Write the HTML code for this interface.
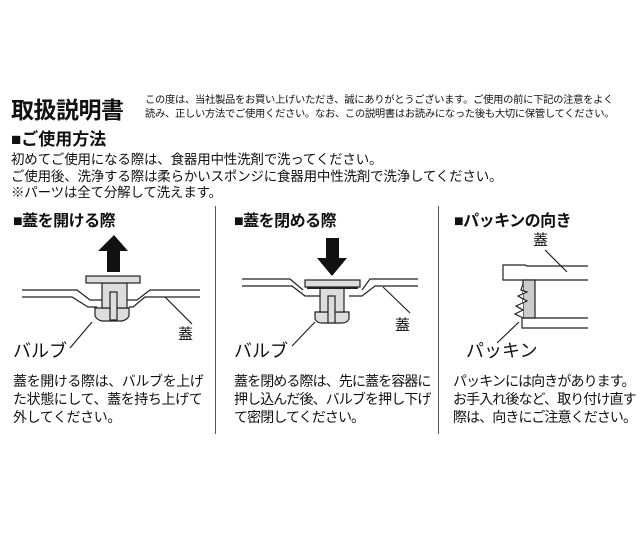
<!DOCTYPE html>
<html><head><meta charset="utf-8"><style>
body{margin:0;width:640px;height:533px;background:#fff;position:relative;overflow:hidden;font-family:"Liberation Sans","Noto Sans CJK JP",sans-serif;color:#111}
.t{position:absolute;white-space:nowrap}
.b{font-weight:bold}
</style></head><body>
<div class="t b" style="left:11px;top:91px;font-size:23px;letter-spacing:-0.5px">取扱説明書</div>
<div class="t" style="left:145px;top:94px;font-size:10.3px;line-height:14px;letter-spacing:-0.3px">この度は、当社製品をお買い上げいただき、誠にありがとうございます。ご使用の前に下記の注意をよく<br>読み、正しい方法でご使用ください。なお、この説明書はお読みになった後も大切に保管してください。</div>
<div class="t b" style="left:11px;top:125px;font-size:17px">■ご使用方法</div>
<div class="t" style="left:11px;top:152px;font-size:13.5px;line-height:16.5px;letter-spacing:-0.2px">初めてご使用になる際は、食器用中性洗剤で洗ってください。<br>ご使用後、洗浄する際は柔らかいスポンジに食器用中性洗剤で洗浄してください。<br>※パーツは全て分解して洗えます。</div>

<div style="position:absolute;left:215px;top:206px;width:1px;height:228px;background:#555"></div>
<div style="position:absolute;left:438px;top:206px;width:1px;height:228px;background:#555"></div>

<div class="t b" style="left:13px;top:207px;font-size:16px;letter-spacing:-0.5px">■蓋を開ける際</div>
<div class="t b" style="left:234px;top:207px;font-size:16px;letter-spacing:-0.5px">■蓋を閉める際</div>
<div class="t b" style="left:454px;top:207px;font-size:16px;letter-spacing:-0.5px">■パッキンの向き</div>

<svg width="640" height="533" style="position:absolute;left:0;top:0" fill="none" stroke="#222" stroke-width="1.2">
<polygon points="114,235 128,251 120,251 120,272 107,272 107,251 98,251" fill="#111" stroke="none"/>
<polyline points="22,290 77,290 90,300 102,300"/>
<polyline points="22,297 72,297 88,307 97,307"/>
<polyline points="127,300 137,300 150,290 200,290"/>
<polyline points="129,307 133,307 145,297 200,297"/>
<path d="M95,308 H129 V316 Q127,320 122,321 H102 Q97,320 95,316 Z" fill="#ddd"/>
<rect x="102" y="283" width="25" height="25" fill="#ddd"/>
<rect x="110" y="292" width="7" height="28" fill="#ddd"/>
<rect x="86" y="276" width="54" height="7" fill="#ddd"/>
<line x1="165" y1="297" x2="192" y2="324"/>
<line x1="92" y1="322" x2="70" y2="348"/>
<polygon points="326,238 339,238 339,258 347,258 332,276 317,258 326,258" fill="#111" stroke="none"/>
<polyline points="242,279 290,279 303,290"/>
<polyline points="242,286 292,286 305,296 320,296"/>
<polyline points="362,290 370,279 418,279"/>
<polyline points="349,296 362,296 375,286 418,286"/>
<path d="M315,312 H349 V319 Q347,323 342,323 H322 Q317,323 315,319 Z" fill="#ddd"/>
<rect x="320" y="288" width="24" height="24" fill="#ddd"/>
<rect x="328" y="296" width="7" height="27" fill="#ddd"/>
<rect x="305" y="280" width="55" height="7" fill="#ddd"/>
<line x1="307" y1="288" x2="358" y2="288" stroke-width="2"/>
<line x1="383" y1="287" x2="410" y2="313"/>
<line x1="315" y1="322" x2="292" y2="346"/>
<path d="M588,266 H527 L525,265 H503 V280 H588"/>
<rect x="523" y="280" width="12" height="38" fill="#ccc"/>
<polyline points="523,284 521,290 527,292 518,296 527,301 516,306 523,310 515,314 523,318" fill="#fff"/>
<path d="M588,318 H522 V328 H588"/>
<line x1="545" y1="250" x2="567" y2="272"/>
<line x1="519" y1="322" x2="497" y2="343"/>
</svg>

<div class="t" style="left:178px;top:323px;font-size:15px">蓋</div>
<div class="t" style="left:395px;top:314px;font-size:15px">蓋</div>
<div class="t" style="left:533px;top:229px;font-size:15px">蓋</div>
<div class="t" style="left:13px;top:337px;font-size:18px">バルブ</div>
<div class="t" style="left:234px;top:337px;font-size:18px">バルブ</div>
<div class="t" style="left:466px;top:337px;font-size:18px">パッキン</div>

<div class="t" style="left:13px;top:372px;font-size:14px;line-height:18px;letter-spacing:-0.4px">蓋を開ける際は、バルブを上げ<br>た状態にして、蓋を持ち上げて<br>外してください。</div>
<div class="t" style="left:234px;top:372px;font-size:14px;line-height:18px;letter-spacing:-0.9px">蓋を閉める際は、先に蓋を容器に<br>押し込んだ後、バルブを押し下げ<br>て密閉してください。</div>
<div class="t" style="left:453px;top:372px;font-size:14px;line-height:18px;letter-spacing:-0.9px">パッキンには向きがあります。<br>お手入れ後など、取り付け直す<br>際は、向きにご注意ください。</div>
</body></html>
